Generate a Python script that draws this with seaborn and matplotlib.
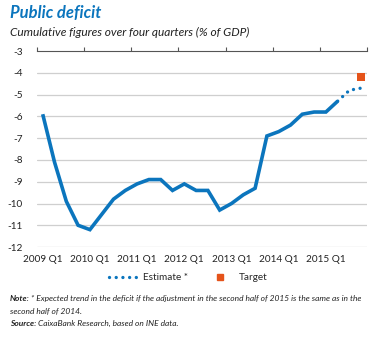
import matplotlib
matplotlib.use("Agg")
import matplotlib.pyplot as plt
from matplotlib.lines import Line2D
import seaborn as sns
import pandas as pd

# ---- data ----
quarters = ["2009 Q1", "2009 Q2", "2009 Q3", "2009 Q4",
            "2010 Q1", "2010 Q2", "2010 Q3", "2010 Q4",
            "2011 Q1", "2011 Q2", "2011 Q3", "2011 Q4",
            "2012 Q1", "2012 Q2", "2012 Q3", "2012 Q4",
            "2013 Q1", "2013 Q2", "2013 Q3", "2013 Q4",
            "2014 Q1", "2014 Q2", "2014 Q3", "2014 Q4",
            "2015 Q1", "2015 Q2"]
deficit = [-5.9, -8.1, -9.9, -11.0,
           -11.2, -10.5, -9.8, -9.4,
           -9.1, -8.9, -8.9, -9.4,
           -9.1, -9.4, -9.4, -10.3,
           -10.0, -9.6, -9.3, -6.9,
           -6.7, -6.4, -5.9, -5.8,
           -5.8, -5.3]
estimate_quarters = ["2015 Q2", "2015 Q3", "2015 Q4"]
estimate = [-5.3, -4.8, -4.7]
target_quarters = ["2015 Q4"]
target = [-4.2]
all_quarters = quarters + ["2015 Q3", "2015 Q4"]
xtick_labels = ["2009 Q1", "2010 Q1", "2011 Q1", "2012 Q1", "2013 Q1", "2014 Q1", "2015 Q1"]
yticks = [-3, -4, -5, -6, -7, -8, -9, -10, -11, -12]

pos = {q: i for i, q in enumerate(all_quarters)}
df = pd.DataFrame({"x": [pos[q] for q in quarters], "y": deficit})
df_est = pd.DataFrame({"x": [pos[q] for q in estimate_quarters], "y": estimate})
df_tgt = pd.DataFrame({"x": [pos[q] for q in target_quarters], "y": target})

BLUE = "#0b75bd"
ORANGE = "#e5531a"
GRID = "#cfcfcf"
TXT = "#222222"

sns.set_style("white")
plt.rcParams["font.family"] = ["Lato", "DejaVu Sans"]

fig = plt.figure(figsize=(3.78, 3.38), dpi=100)
ax = fig.add_axes([0.0974, 0.269, 0.874, 0.580])

sns.lineplot(data=df, x="x", y="y", ax=ax, color=BLUE, linewidth=2.6,
             solid_capstyle="butt", solid_joinstyle="miter")
sns.lineplot(data=df_est, x="x", y="y", ax=ax, color=BLUE, linewidth=2.4,
             dashes=False, linestyle=(0, (0.01, 2.0)), dash_capstyle="round")
sns.scatterplot(data=df_tgt, x="x", y="y", ax=ax, color=ORANGE, marker="s",
                s=30, linewidth=0, zorder=5)

ax.set_xlim(-0.5, 27.5)
ax.set_ylim(-12, -3)
ax.set_yticks(yticks)
ax.set_yticklabels([str(v) for v in yticks])
for y in yticks[1:]:
    ax.axhline(y, color=GRID, linewidth=0.9, zorder=0)

ax.set_xticks([pos[q] for q in xtick_labels])
ax.set_xticklabels(xtick_labels)
ax.set_xticks([i - 0.5 for i in range(0, 29, 4)], minor=True)
ax.tick_params(axis="x", which="major", length=0, pad=6, labelsize=7.2, labelcolor=TXT)
ax.tick_params(axis="x", which="minor", top=True, bottom=False, length=3,
               width=0.8, color="#555555", direction="out")
ax.tick_params(axis="y", length=0, pad=10, labelsize=7.2, labelcolor=TXT)

for s in ["left", "right", "bottom"]:
    ax.spines[s].set_visible(False)
ax.spines["top"].set_color("#555555")
ax.spines["top"].set_linewidth(0.8)
ax.set_xlabel("")
ax.set_ylabel("")

fig.text(0.026, 0.963, "Public deficit", fontsize=12, fontweight="bold",
         fontstyle="italic", color=BLUE, va="center", ha="left")
fig.text(0.026, 0.905, "Cumulative figures over four quarters (% of GDP)",
         fontsize=8.6, fontstyle="italic", color=TXT, va="center", ha="left")

handles = [Line2D([], [], color=BLUE, linewidth=2.4, linestyle=(0, (0.01, 2.0)),
                  dash_capstyle="round"),
           Line2D([], [], color=ORANGE, marker="s", markersize=5, linestyle="none")]
fig.legend(handles, ["Estimate *", "Target"], loc="center left", bbox_to_anchor=(0.265, 0.178),
           ncol=2, frameon=False, fontsize=7.2, handlelength=3.0, columnspacing=1.7,
           handletextpad=0.4)

renderer = fig.canvas.get_renderer()
FS = 6.0


def label_line(y, bold, rest):
    t = fig.text(0.026, y, bold, fontsize=FS, fontstyle="italic", fontweight="bold",
                 color=TXT, va="center")
    bb = t.get_window_extent(renderer)
    x1 = bb.x1 / fig.bbox.width + 0.004
    fig.text(x1, y, rest, fontsize=FS, fontstyle="italic", color=TXT, va="center")


label_line(0.118, "Note:", "* Expected trend in the deficit if the adjustment in the second half of 2015 is the same as in the")
fig.text(0.026, 0.080, "second half of 2014.", fontsize=FS, fontstyle="italic", color=TXT, va="center")
label_line(0.042, "Source:", "CaixaBank Research, based on INE data.")

fig.savefig("out.png", dpi=100)
